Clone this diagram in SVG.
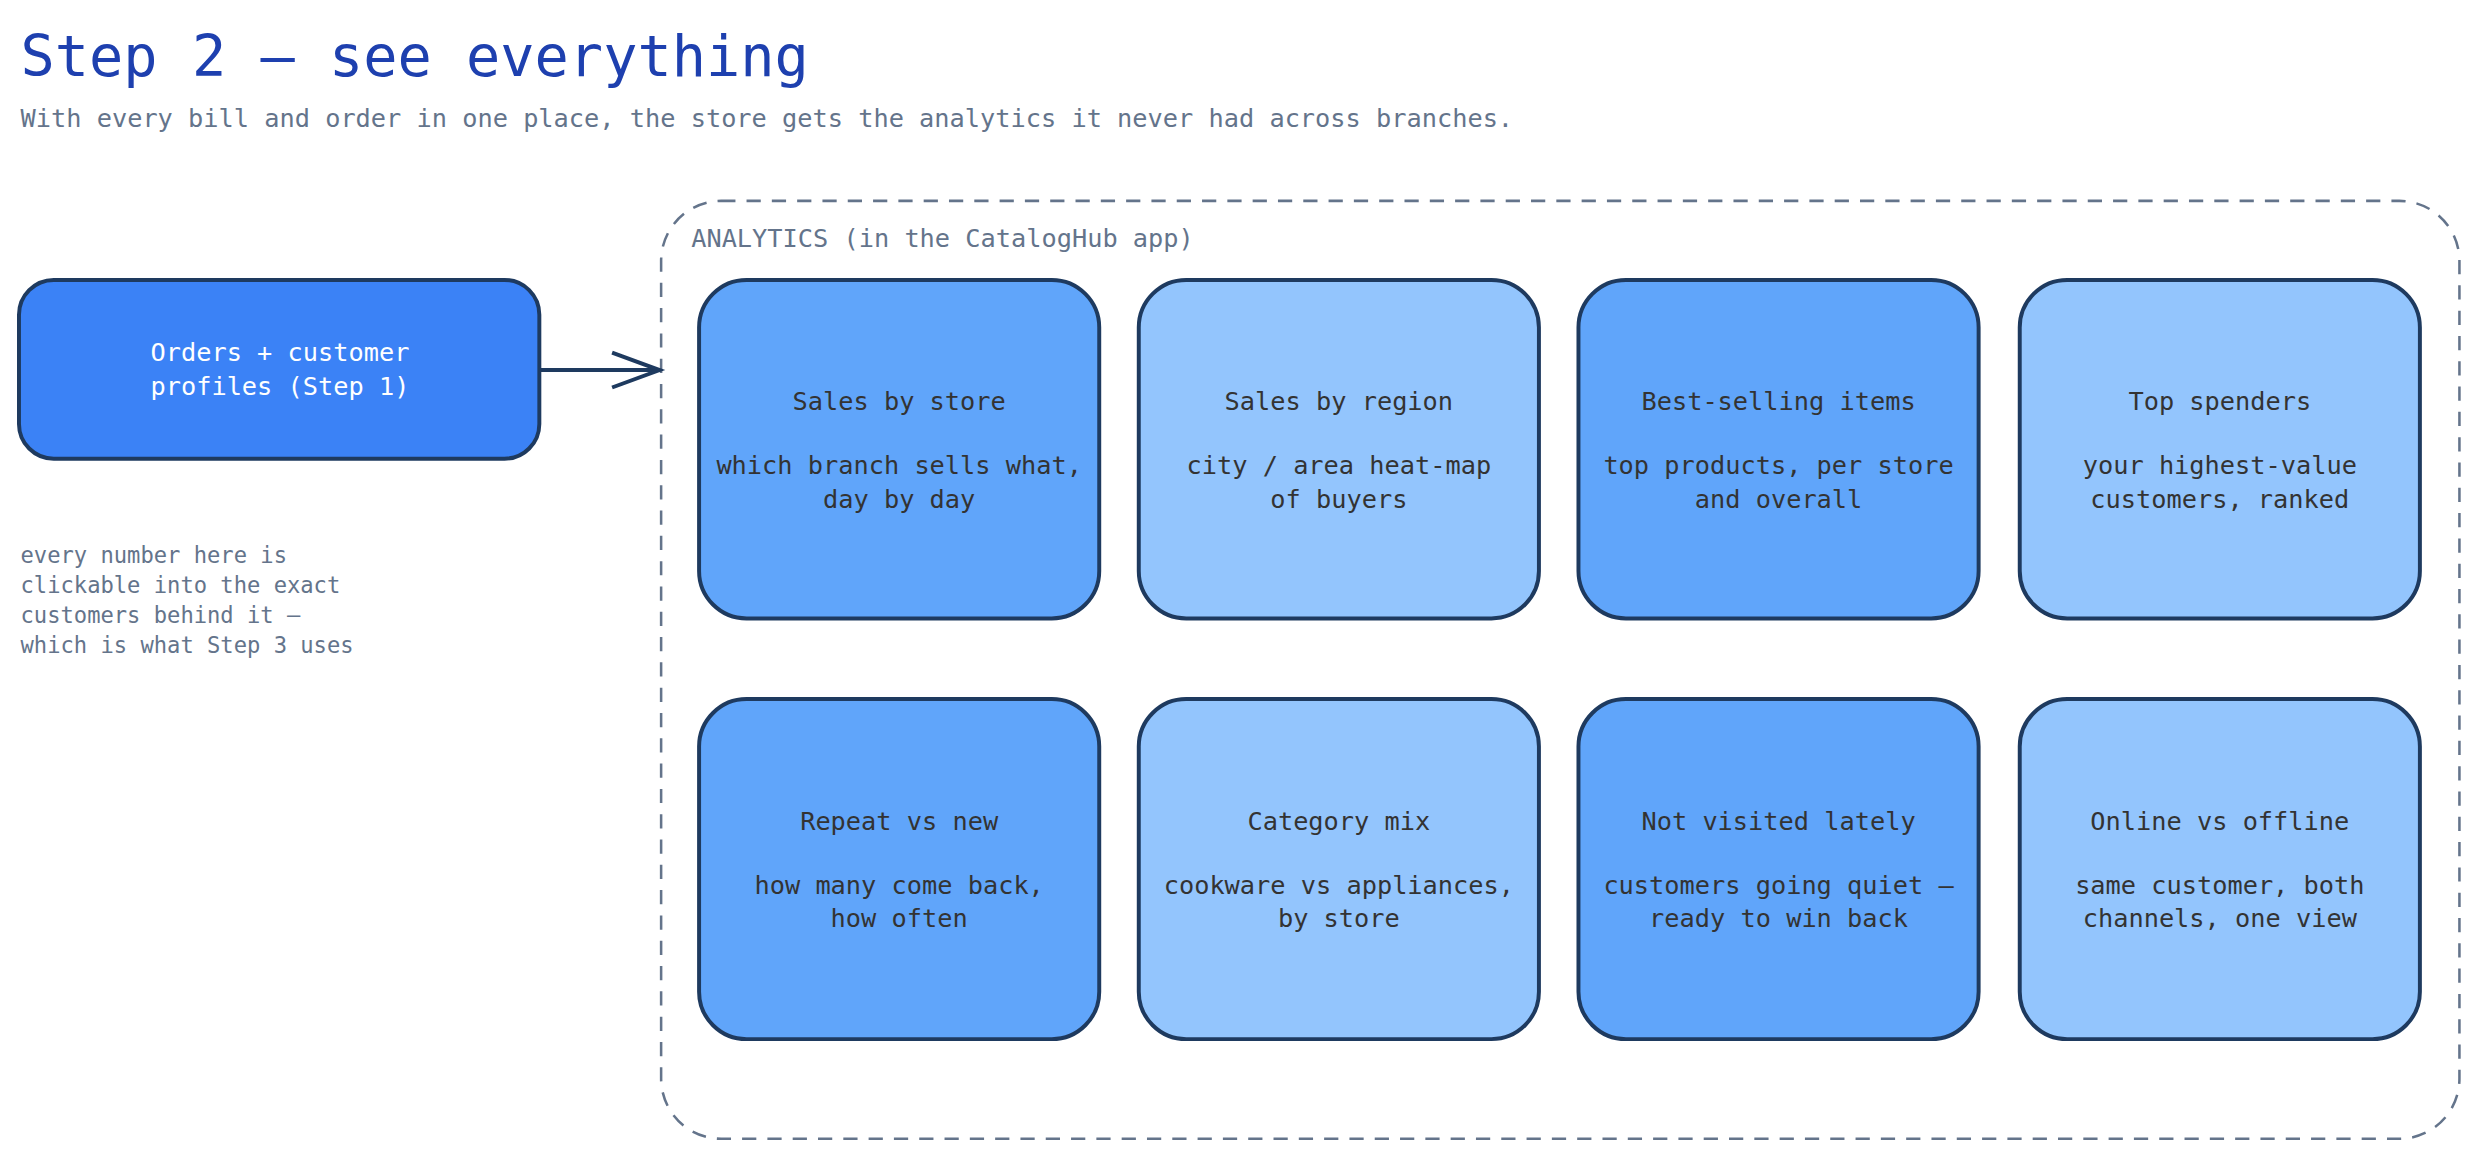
<svg xmlns="http://www.w3.org/2000/svg" width="2480" height="1160" viewBox="0 0 2480 1160">
<style>
text{font-family:"DejaVu Sans Mono","Liberation Mono",monospace}
.t{font-size:36px;fill:#1e40af}
.s{font-size:16px;fill:#64748b}
.n{font-size:14px;fill:#64748b}
.c{stroke:#1e3a5f;stroke-width:2.5}
.d{fill:#60a5fa}.l{fill:#93c5fd}
.ct{font-size:16px;fill:#333333;text-anchor:middle}
</style>
<defs><marker id="ah" markerWidth="14" markerHeight="14" refX="12" refY="7" orient="auto" markerUnits="userSpaceOnUse"><path d="M1,1 L12,7 L1,13" fill="none" stroke="#1e3a5f" stroke-width="2.5"/></marker></defs>
<rect width="2480" height="1160" fill="#ffffff"/>
<g transform="scale(1.58163)">
<text x="13" y="48" class="t">Step 2 — see everything</text>
<text x="13" y="80" class="s">With every bill and order in one place, the store gets the analytics it never had across branches.</text>
<g id="container"><rect x="418" y="127" width="1137" height="593" rx="38" fill="none" stroke="#64748b" stroke-width="1.6" stroke-dasharray="9,7"/>
<text x="437" y="156" class="s">ANALYTICS (in the CatalogHub app)</text></g>
<g id="connectors"><path d="M341,234 H417" stroke="#1e3a5f" stroke-width="2.5" fill="none"/><path d="M387,223 L417,234 L387,245" stroke="#1e3a5f" stroke-width="2.5" fill="none"/></g>
<g id="orders"><rect x="12" y="177" width="329" height="113" rx="22" fill="#3b82f6" class="c"/>
<text x="177" y="228" class="ct" fill="#fff" style="fill:#fff">Orders + customer</text><text x="177" y="250" class="ct" style="fill:#fff">profiles (Step 1)</text></g>
<g id="note"><text class="n" x="13" y="356">every number here is</text><text class="n" x="13" y="375">clickable into the exact</text><text class="n" x="13" y="394">customers behind it —</text><text class="n" x="13" y="413">which is what Step 3 uses</text></g>
<g id="c1"><rect x="442" y="177" width="253" height="214" rx="30" class="c d"/><text class="ct" x="568.5" y="259">Sales by store</text><text class="ct" x="568.5" y="300">which branch sells what,</text><text class="ct" x="568.5" y="321">day by day</text></g>
<g id="c2"><rect x="720" y="177" width="253" height="214" rx="30" class="c l"/><text class="ct" x="846.5" y="259">Sales by region</text><text class="ct" x="846.5" y="300">city / area heat-map</text><text class="ct" x="846.5" y="321">of buyers</text></g>
<g id="c3"><rect x="998" y="177" width="253" height="214" rx="30" class="c d"/><text class="ct" x="1124.5" y="259">Best-selling items</text><text class="ct" x="1124.5" y="300">top products, per store</text><text class="ct" x="1124.5" y="321">and overall</text></g>
<g id="c4"><rect x="1277" y="177" width="253" height="214" rx="30" class="c l"/><text class="ct" x="1403.5" y="259">Top spenders</text><text class="ct" x="1403.5" y="300">your highest-value</text><text class="ct" x="1403.5" y="321">customers, ranked</text></g>
<g id="c5"><rect x="442" y="442" width="253" height="215" rx="30" class="c d"/><text class="ct" x="568.5" y="525">Repeat vs new</text><text class="ct" x="568.5" y="565">how many come back,</text><text class="ct" x="568.5" y="586">how often</text></g>
<g id="c6"><rect x="720" y="442" width="253" height="215" rx="30" class="c l"/><text class="ct" x="846.5" y="525">Category mix</text><text class="ct" x="846.5" y="565">cookware vs appliances,</text><text class="ct" x="846.5" y="586">by store</text></g>
<g id="c7"><rect x="998" y="442" width="253" height="215" rx="30" class="c d"/><text class="ct" x="1124.5" y="525">Not visited lately</text><text class="ct" x="1124.5" y="565">customers going quiet —</text><text class="ct" x="1124.5" y="586">ready to win back</text></g>
<g id="c8"><rect x="1277" y="442" width="253" height="215" rx="30" class="c l"/><text class="ct" x="1403.5" y="525">Online vs offline</text><text class="ct" x="1403.5" y="565">same customer, both</text><text class="ct" x="1403.5" y="586">channels, one view</text></g>
</g>
</svg>
